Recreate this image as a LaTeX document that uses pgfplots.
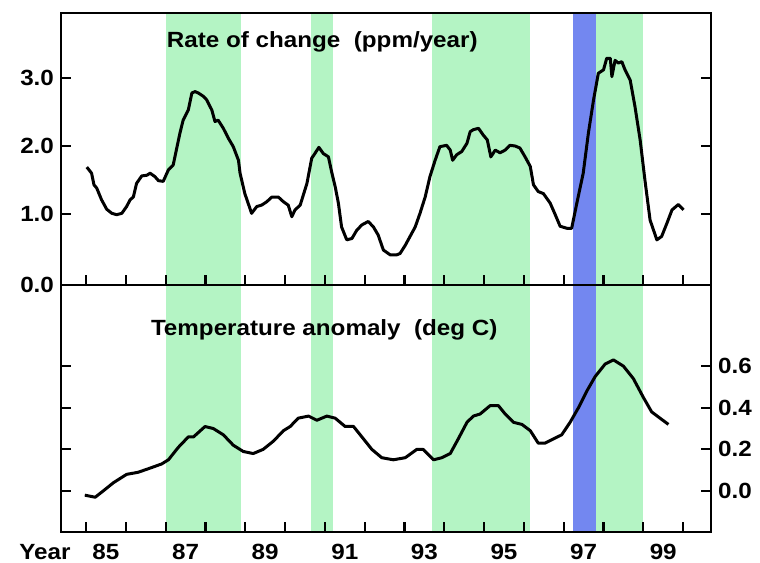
\documentclass[border=0pt]{standalone}
\usepackage{fontspec}
\setmainfont{Liberation Sans}[FakeStretch=1.1]
\usepackage{pgfplots}
\pgfplotsset{compat=1.18}

\definecolor{bandgreen}{RGB}{180,244,196}
\definecolor{bandblue}{RGB}{115,135,240}

% CO2 growth rate, ppm/year
\pgfplotstableread{
yr rate
85.02 1.69
85.14 1.60
85.20 1.43
85.27 1.38
85.39 1.21
85.52 1.07
85.65 1.01
85.77 0.99
85.90 1.01
86.02 1.11
86.11 1.21
86.19 1.25
86.27 1.45
86.40 1.56
86.53 1.57
86.61 1.60
86.73 1.55
86.82 1.49
86.94 1.48
87.07 1.65
87.19 1.72
87.28 1.97
87.36 2.19
87.44 2.38
87.57 2.53
87.66 2.78
87.74 2.80
87.82 2.78
87.95 2.73
88.03 2.68
88.16 2.53
88.24 2.36
88.32 2.38
88.45 2.26
88.58 2.11
88.70 1.99
88.83 1.79
88.87 1.60
88.99 1.30
89.16 1.01
89.29 1.11
89.41 1.13
89.54 1.18
89.67 1.25
89.83 1.25
89.96 1.18
90.08 1.13
90.17 0.96
90.25 1.06
90.38 1.13
90.55 1.45
90.67 1.82
90.75 1.89
90.85 1.98
90.96 1.89
91.09 1.84
91.17 1.62
91.26 1.40
91.34 1.16
91.42 0.81
91.55 0.62
91.68 0.64
91.80 0.76
91.93 0.84
92.09 0.89
92.22 0.81
92.34 0.69
92.47 0.47
92.64 0.40
92.81 0.40
92.89 0.42
93.02 0.54
93.14 0.67
93.27 0.81
93.39 1.01
93.52 1.25
93.64 1.55
93.77 1.79
93.89 1.99
94.06 2.01
94.15 1.94
94.21 1.79
94.31 1.87
94.44 1.92
94.57 2.04
94.65 2.21
94.73 2.24
94.86 2.26
94.98 2.16
95.08 2.09
95.17 1.84
95.28 1.94
95.40 1.90
95.53 1.94
95.65 2.01
95.78 2.00
95.90 1.97
96.03 1.84
96.16 1.70
96.24 1.43
96.36 1.33
96.49 1.30
96.66 1.16
96.78 1.00
96.91 0.82
97.08 0.79
97.20 0.79
97.33 1.16
97.49 1.60
97.62 2.19
97.75 2.68
97.87 3.07
98.00 3.12
98.08 3.29
98.17 3.29
98.21 3.02
98.29 3.26
98.37 3.22
98.46 3.24
98.54 3.12
98.67 2.97
98.79 2.58
98.92 2.09
99.04 1.50
99.17 0.91
99.34 0.62
99.46 0.67
99.59 0.86
99.72 1.06
99.88 1.14
100.01 1.06
}\ratetable

% temperature anomaly, deg C
\pgfplotstableread{
yr temp
84.97 -0.02
85.23 -0.03
85.43 0.00
85.69 0.04
86.02 0.08
86.31 0.09
86.61 0.11
86.90 0.13
87.07 0.15
87.32 0.21
87.57 0.26
87.70 0.26
87.99 0.31
88.20 0.30
88.45 0.27
88.70 0.22
88.95 0.19
89.20 0.18
89.45 0.20
89.71 0.24
89.96 0.29
90.13 0.31
90.33 0.35
90.59 0.36
90.80 0.34
91.05 0.36
91.26 0.35
91.51 0.31
91.72 0.31
91.93 0.26
92.18 0.20
92.43 0.16
92.72 0.15
93.02 0.16
93.31 0.20
93.47 0.20
93.73 0.15
93.94 0.16
94.15 0.18
94.35 0.25
94.57 0.33
94.73 0.36
94.90 0.37
95.15 0.41
95.36 0.41
95.53 0.37
95.74 0.33
95.95 0.32
96.16 0.29
96.36 0.23
96.53 0.23
96.74 0.25
96.95 0.27
97.16 0.33
97.37 0.40
97.58 0.48
97.79 0.55
98.04 0.61
98.25 0.63
98.50 0.60
98.75 0.54
99.00 0.45
99.21 0.38
99.42 0.35
99.63 0.32
}\temptable

\pgfplotsset{
  panel/.style={
    scale only axis, width=325pt,
    xmin=84.372, xmax=100.70,
    axis on top,
    axis line style={line width=1.2pt},
    every tick/.style={black, line width=1.1pt},
    major tick length=5pt, minor tick length=5pt,
    tick align=inside,
    xtick={85,87,...,99}, minor xtick={86,88,...,100},
    xtick pos=bottom,
    /pgf/number format/assume math mode=true,
    tick label style={font=\fontsize{11}{13}\selectfont\bfseries},
  },
  band/.style={draw=none, fill=bandgreen, forget plot},
}

\begin{document}
\begin{tikzpicture}
\path[use as bounding box] (0,0) rectangle (380pt,281pt);

% top panel
\begin{axis}[panel,
  at={(30.5pt,138.5pt)}, anchor=south west, height=136pt,
  ymin=-0.044, ymax=3.956,
  ytick={1,2,3}, yticklabels={1.0,2.0,3.0},
  extra y ticks={-0.044}, extra y tick labels={0.0},
  extra y tick style={major tick length=0pt},
  yticklabel pos=left, ytick pos=both,
  xticklabels={},
]
\addplot[band] coordinates {(87.0,-1) (87.0,5) (88.9,5) (88.9,-1)} -- cycle;
\addplot[band] coordinates {(90.65,-1) (90.65,5) (91.2,5) (91.2,-1)} -- cycle;
\addplot[band] coordinates {(93.7,-1) (93.7,5) (96.15,5) (96.15,-1)} -- cycle;
\addplot[band] coordinates {(97.8,-1) (97.8,5) (98.98,5) (98.98,-1)} -- cycle;
\addplot[band, fill=bandblue] coordinates {(97.23,-1) (97.23,5) (97.81,5) (97.81,-1)} -- cycle;
\addplot[black, line width=1.5pt, line join=round] table[x=yr, y=rate] {\ratetable};
\node[font=\fontsize{11}{13}\selectfont\bfseries] at (rel axis cs:0.402,0.893) {Rate of change~ (ppm/year)};
\end{axis}

% bottom panel
\begin{axis}[panel,
  at={(30.5pt,15pt)}, anchor=south west, height=123.5pt,
  ymin=-0.197, ymax=0.99,
  ytick={0,0.2,0.4,0.6}, yticklabels={0.0,0.2,0.4,0.6},
  yticklabel pos=right, ytick pos=both,
  xticklabels={85,87,89,91,93,95,97,99},
  xticklabel style={xshift=9.95pt, yshift=-6pt, inner sep=0pt},
]
\addplot[band] coordinates {(87.0,-1) (87.0,5) (88.9,5) (88.9,-1)} -- cycle;
\addplot[band] coordinates {(90.65,-1) (90.65,5) (91.2,5) (91.2,-1)} -- cycle;
\addplot[band] coordinates {(93.7,-1) (93.7,5) (96.15,5) (96.15,-1)} -- cycle;
\addplot[band] coordinates {(97.8,-1) (97.8,5) (98.98,5) (98.98,-1)} -- cycle;
\addplot[band, fill=bandblue] coordinates {(97.23,-1) (97.23,5) (97.81,5) (97.81,-1)} -- cycle;
\addplot[black, line width=1.5pt, line join=round] table[x=yr, y=temp] {\temptable};
\node[font=\fontsize{11}{13}\selectfont\bfseries] at (rel axis cs:0.405,0.818) {Temperature anomaly~ (deg C)};
\end{axis}

\node[font=\fontsize{11}{13}\selectfont\bfseries, inner sep=0pt, anchor=north] at (22.5pt,9pt) {Year};
\end{tikzpicture}
\end{document}
